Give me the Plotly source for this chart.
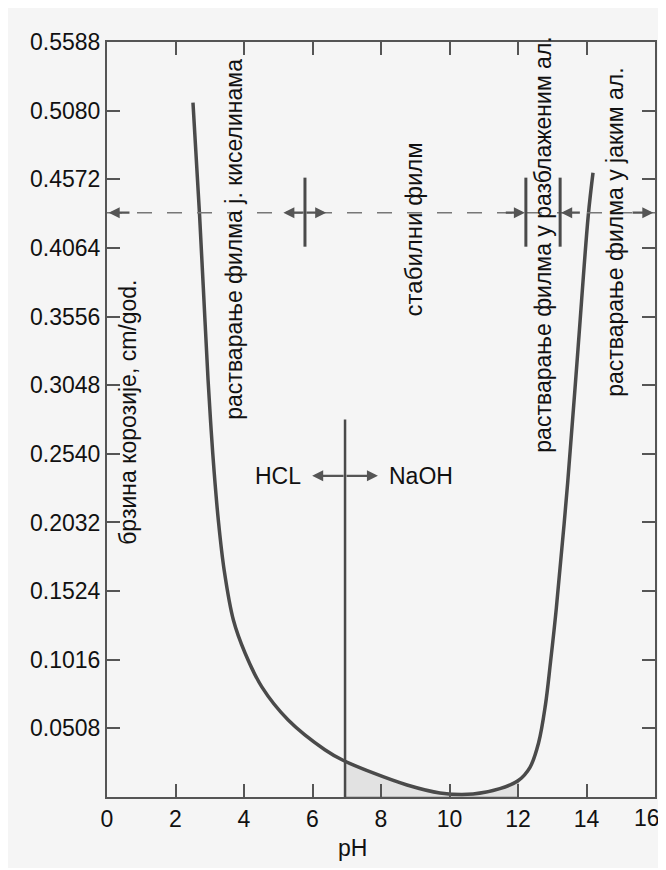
import plotly.graph_objects as go

# corrosion rate curve
ph_curve = [2.51, 2.70, 2.83, 2.95, 3.04, 3.13, 3.25, 3.42, 3.69, 4.03, 4.52, 5.29, 6.36,
            6.89, 7.77, 8.76, 9.72, 10.69, 11.47, 12.0, 12.35, 12.6, 12.8, 12.95, 13.12,
            13.45, 13.75, 14.05, 14.19]
rate = [0.514, 0.432, 0.368, 0.309, 0.272, 0.240, 0.205, 0.168, 0.131, 0.1066, 0.0815, 0.057,
        0.035, 0.0272, 0.0178, 0.0089, 0.003, 0.0022, 0.0062, 0.012, 0.022, 0.040, 0.068,
        0.100, 0.140, 0.2325, 0.331, 0.43, 0.462]

# shaded part under the curve
ph_shade = [6.95, 7.77, 8.76, 9.72, 10.69, 11.47, 12.0, 12.0, 6.95]
rate_shade = [0.027, 0.0178, 0.0089, 0.003, 0.0022, 0.0062, 0.012, 0.0, 0.0]

y_ticks = [0.0508, 0.1016, 0.1524, 0.2032, 0.2540, 0.3048, 0.3556, 0.4064, 0.4572, 0.5080, 0.5588]
y_labels = ["0.0508", "0.1016", "0.1524", "0.2032", "0.2540", "0.3048", "0.3556", "0.4064",
            "0.4572", "0.5080", "0.5588"]
x_ticks = [0, 2, 4, 6, 8, 10, 12, 14, 16]
x_labels = ["0", "2", "4", "6", "8", "10", "12", "14", ""]  # "16" placed separately (edge)

region_y = 0.4325          # dashed boundary line
bars_x = [5.78, 12.23, 13.23]
bar_lo, bar_hi = 0.4073, 0.4584
naoh_x = 6.95              # addition line
naoh_top = 0.2794
arrow_y = 0.2377

labels = [
    ("брзина корозије, cm/god.", 0.61, 0.285, 23),
    ("растварање филма ј. киселинама", 3.71, 0.4125, 23),
    ("стабилни филм", 8.96, 0.42, 24),
    ("растварање филма у разблаженим ал.", 12.73, 0.4088, 23),
    ("растварање филма у јаким ал.", 14.85, 0.418, 23),
]

ink = "#4a4a4a"
font = "Liberation Sans, Arial, sans-serif"

fig = go.Figure()
fig.add_trace(go.Scatter(x=ph_shade, y=rate_shade, mode="lines", fill="toself",
                         fillcolor="#e2e2e2", line=dict(color="#9a9a9a", width=1),
                         hoverinfo="skip"))
fig.add_trace(go.Scatter(x=ph_curve, y=rate, mode="lines",
                         line=dict(color=ink, width=3.5, shape="spline", smoothing=1.0)))

fig.add_shape(type="line", x0=0, x1=16, y0=region_y, y1=region_y,
              line=dict(color="#777", width=1.5, dash="longdash"))
for bx in bars_x:
    fig.add_shape(type="line", x0=bx, x1=bx, y0=bar_lo, y1=bar_hi,
                  line=dict(color=ink, width=3))
fig.add_shape(type="line", x0=naoh_x, x1=naoh_x, y0=0, y1=naoh_top,
              line=dict(color=ink, width=2.5))

arrows = [
    (0.05, region_y, 0.7, region_y),
    (5.15, region_y, 5.78, region_y),
    (6.40, region_y, 5.78, region_y),
    (12.20, region_y, 11.6, region_y),
    (13.26, region_y, 13.85, region_y),
    (15.95, region_y, 15.3, region_y),
    (5.99, arrow_y, naoh_x, arrow_y),
    (7.91, arrow_y, naoh_x, arrow_y),
]
for hx, hy, tx, ty in arrows:
    fig.add_annotation(x=hx, y=hy, ax=tx, ay=ty, xref="x", yref="y", axref="x", ayref="y",
                       text="", showarrow=True, arrowhead=2, arrowsize=1.0, arrowwidth=2.2,
                       arrowcolor="#555")

for txt, lx, ly, fs in labels:
    fig.add_annotation(x=lx, y=ly, text=txt, textangle=-90, showarrow=False,
                       font=dict(size=fs, color="#111", family=font))

fig.add_annotation(x=5.72, y=arrow_y, text="HCL", showarrow=False, xanchor="right",
                   font=dict(size=23, color="#111", family=font))
fig.add_annotation(x=8.18, y=arrow_y, text="NaOH", showarrow=False, xanchor="left",
                   font=dict(size=23, color="#111", family=font))
fig.add_annotation(x=7.18, y=-0.0675, xref="x", yref="paper", yanchor="middle", text="pH",
                   showarrow=False, font=dict(size=23, color="#111", family=font))
fig.add_annotation(x=15.78, y=0, yshift=-21, text="16", showarrow=False,
                   font=dict(size=23, color="#111", family=font))

axis_common = dict(showgrid=False, zeroline=False, showline=True, linecolor="#555",
                   linewidth=2, ticks="inside", ticklen=13, tickwidth=1.5, tickcolor="#555",
                   mirror="ticks", automargin=False,
                   tickfont=dict(size=23, color="#111", family=font))
fig.update_xaxes(range=[0, 16], tickvals=x_ticks, ticktext=x_labels, **axis_common)
fig.update_yaxes(range=[0, 0.5588], tickvals=y_ticks, ticktext=y_labels, **axis_common)

fig.update_layout(width=658, height=860, showlegend=False,
                  margin=dict(l=99, r=11, t=34, b=71),
                  paper_bgcolor="#f5f5f5", plot_bgcolor="#f5f5f5",
                  font=dict(family=font, color="#111"))

fig.write_html("out.html")
